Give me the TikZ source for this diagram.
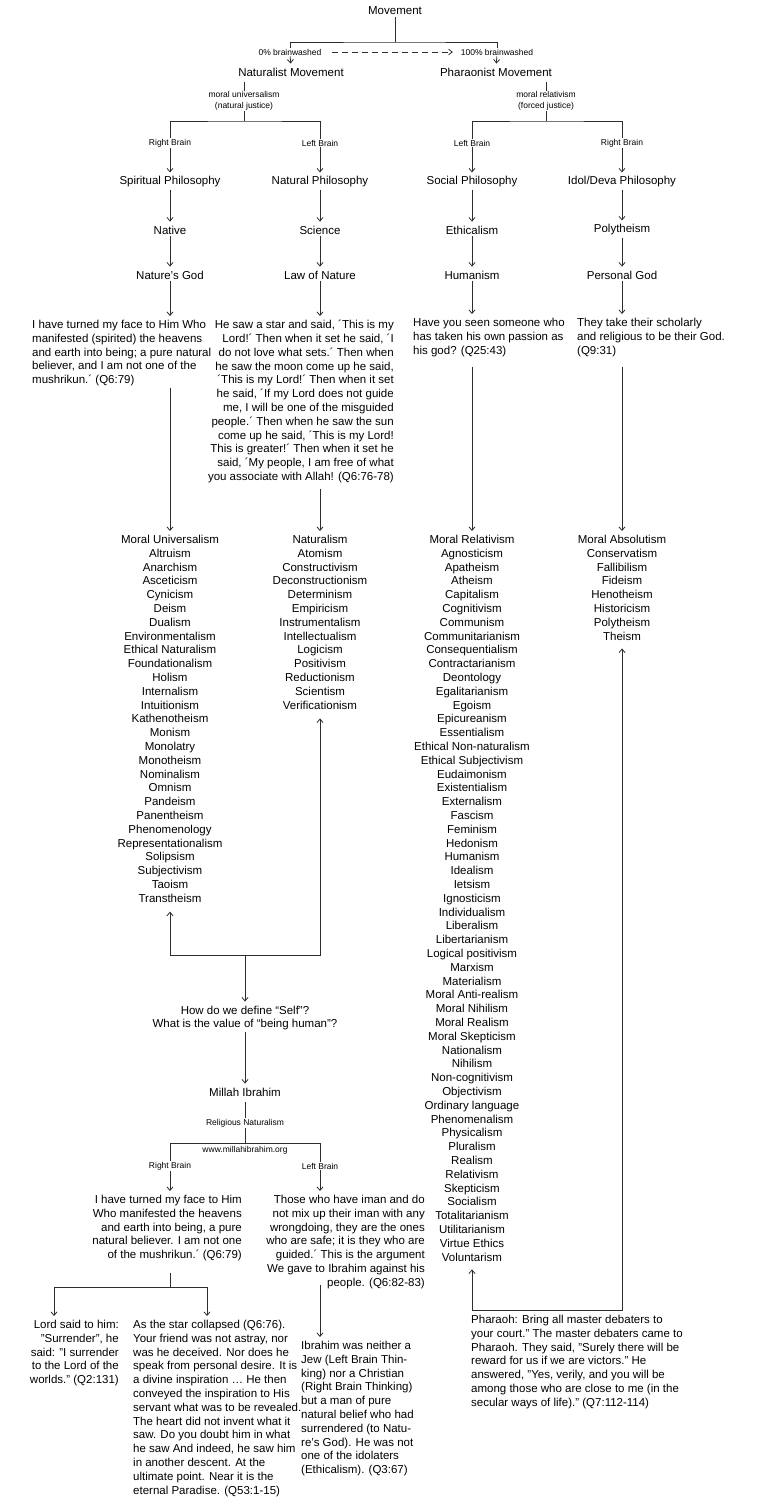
\documentclass[tikz,border=0pt]{standalone}
\usepackage{fontspec}
\setmainfont{Liberation Sans}
\usepackage{tikz}
\usetikzlibrary{arrows.meta,calc}
\definecolor{linegray}{RGB}{45,45,45}
\newcommand{\mainsize}{\fontsize{11.5}{13.8}\selectfont}
\newcommand{\tinysize}{\fontsize{8.5}{10.5}\selectfont}
\tikzset{
  txt/.style   = {font=\mainsize, inner sep=2pt},
  lbl/.style   = {font=\tinysize, inner sep=1pt, align=center},
  lnote/.style = {txt, align=left},
  rnote/.style = {txt, align=right},
  lst/.style   = {txt, align=center, anchor=north},
  link/.style  = {line width=0.8pt, draw=linegray},
  flow/.style  = {link, -{Straight Barb[length=3.5pt,width=6pt]}, shorten >=2pt},
}

\begin{document}
\begin{tikzpicture}[x=1pt, y=-1pt]
  \useasboundingbox (0,0) rectangle (770,1500);

  \node[txt] (mov) at (395,11) {Movement};
  \coordinate (bar0) at (395,42);
  \node[lbl] (bw0)   at (290,52) {0\% brainwashed};
  \node[lbl] (bw100) at (497,52) {100\% brainwashed};
  \node[txt] (nat)  at (291,72) {Naturalist Movement};
  \node[txt] (phar) at (496,72) {Pharaonist Movement};
  \node[lbl] (muni) at (244,101) {moral universalism\\(natural justice)};
  \node[lbl] (mrel) at (546,101) {moral relativism\\(forced justice)};
  \coordinate (barL) at (244,121);
  \coordinate (barR) at (546,121);

  \node[lbl] (rb1) at (170,143) {Right Brain};
  \node[lbl] (lb1) at (320,143) {Left Brain};
  \node[lbl] (lb2) at (472,143) {Left Brain};
  \node[lbl] (rb2) at (622,143) {Right Brain};

  \node[txt] (sp)   at (170,182) {Spiritual Philosophy};
  \node[txt] (np)   at (320,182) {Natural Philosophy};
  \node[txt] (socp) at (472,182) {Social Philosophy};
  \node[txt] (idol) at (622,182) {Idol/Deva Philosophy};
  \node[txt] (native) at (170,230) {Native};
  \node[txt] (sci)    at (320,230) {Science};
  \node[txt] (ethic)  at (472,230) {Ethicalism};
  \node[txt] (poly)   at (622,230) {Polytheism};
  \node[txt] (natgod) at (170,275) {Nature's God};
  \node[txt] (lawnat) at (320,275) {Law of Nature};
  \node[txt] (human)  at (472,275) {Humanism};
  \node[txt] (pgod)   at (622,275) {Personal God};

  \node[lnote, anchor=north west] (q1) at (30,318) {I have turned my face to Him Who\\manifested (spirited) the heavens\\and earth into being; a pure natural\\believer, and I am not one of the\\mushrikun.´ (Q6:79)};
  \node[rnote, anchor=north east] (q2) at (396,318) {He saw a star and said, ´This is my\\Lord!´ Then when it set he said, ´I\\do not love what sets.´ Then when\\he saw the moon come up he said,\\´This is my Lord!´ Then when it set\\he said, ´If my Lord does not guide\\me, I will be one of the misguided\\people.´ Then when he saw the sun\\come up he said, ´This is my Lord!\\This is greater!´ Then when it set he\\said, ´My people, I am free of what\\you associate with Allah! (Q6:76-78)};
  \node[lnote, anchor=north west] (q3) at (411,316) {Have you seen someone who\\has taken his own passion as\\his god? (Q25:43)};
  \node[lnote, anchor=north west] (q4) at (575,316) {They take their scholarly\\and religious to be their God.\\(Q9:31)};

  \node[lst] (l1) at (170,533) {Moral Universalism\\Altruism\\Anarchism\\Asceticism\\Cynicism\\Deism\\Dualism\\Environmentalism\\Ethical Naturalism\\Foundationalism\\Holism\\Internalism\\Intuitionism\\Kathenotheism\\Monism\\Monolatry\\Monotheism\\Nominalism\\Omnism\\Pandeism\\Panentheism\\Phenomenology\\Representationalism\\Solipsism\\Subjectivism\\Taoism\\Transtheism};
  \node[lst] (l2) at (320,533) {Naturalism\\Atomism\\Constructivism\\Deconstructionism\\Determinism\\Empiricism\\Instrumentalism\\Intellectualism\\Logicism\\Positivism\\Reductionism\\Scientism\\Verificationism};
  \node[lst] (l3) at (472,533) {Moral Relativism\\Agnosticism\\Apatheism\\Atheism\\Capitalism\\Cognitivism\\Communism\\Communitarianism\\Consequentialism\\Contractarianism\\Deontology\\Egalitarianism\\Egoism\\Epicureanism\\Essentialism\\Ethical Non-naturalism\\Ethical Subjectivism\\Eudaimonism\\Existentialism\\Externalism\\Fascism\\Feminism\\Hedonism\\Humanism\\Idealism\\Ietsism\\Ignosticism\\Individualism\\Liberalism\\Libertarianism\\Logical positivism\\Marxism\\Materialism\\Moral Anti-realism\\Moral Nihilism\\Moral Realism\\Moral Skepticism\\Nationalism\\Nihilism\\Non-cognitivism\\Objectivism\\Ordinary language\\Phenomenalism\\Physicalism\\Pluralism\\Realism\\Relativism\\Skepticism\\Socialism\\Totalitarianism\\Utilitarianism\\Virtue Ethics\\Voluntarism};
  \node[lst] (l4) at (622,533) {Moral Absolutism\\Conservatism\\Fallibilism\\Fideism\\Henotheism\\Historicism\\Polytheism\\Theism};

  \coordinate (bar1) at (245,955);
  \node[txt, align=center] (selfq) at (245,1018) {How do we define “Self”?\\What is the value of “being human”?};
  \node[txt] (millah) at (245,1092) {Millah Ibrahim};
  \node[lbl] (relnat) at (245,1123) {Religious Naturalism};
  \coordinate (bar2) at (245,1143);
  \node[lbl] (www) at (245,1150) {www.millahibrahim.org};
  \node[lbl] (rb3) at (170,1166) {Right Brain};
  \node[lbl] (lb3) at (320,1166) {Left Brain};

  \node[rnote, anchor=north east] (q5) at (244,1193) {I have turned my face to Him\\Who manifested the heavens\\and earth into being, a pure\\natural believer. I am not one\\of the mushrikun.´ (Q6:79)};
  \node[rnote, anchor=north east] (q6) at (427,1193) {Those who have iman and do\\not mix up their iman with any\\wrongdoing, they are the ones\\who are safe; it is they who are\\guided.´ This is the argument\\We gave to Ibrahim against his\\people. (Q6:82-83)};
  \coordinate (bar4) at (170,1287);
  \coordinate (a7) at (54,1287);
  \coordinate (a8) at (207,1287);
  \node[rnote, anchor=north east] (q7) at (121,1318) {Lord said to him:\\"Surrender", he\\said: "I surrender\\to the Lord of the\\worlds." (Q2:131)};
  \node[lnote, anchor=north west] (q8) at (131,1318) {As the star collapsed (Q6:76).\\Your friend was not astray, nor\\was he deceived. Nor does he\\speak from personal desire. It is\\a divine inspiration … He then\\conveyed the inspiration to His\\servant what was to be revealed.\\The heart did not invent what it\\saw. Do you doubt him in what\\he saw And indeed, he saw him\\in another descent. At the\\ultimate point. Near it is the\\eternal Paradise. (Q53:1-15)};
  \node[lnote, anchor=north west] (q9) at (299,1339) {Ibrahim was neither a\\Jew (Left Brain Thin-\\king) nor a Christian\\(Right Brain Thinking)\\but a man of pure\\natural belief who had\\surrendered (to Natu-\\re's God). He was not\\one of the idolaters\\(Ethicalism). (Q3:67)};

  \coordinate (bar3) at (547,1310);
  \node[lnote, anchor=north west] (pq) at (469,1313) {Pharaoh: Bring all master debaters to\\your court." The master debaters came to\\Pharaoh. They said, "Surely there will be\\reward for us if we are victors." He\\answered, "Yes, verily, and you will be\\among those who are close to me (in the\\secular ways of life)." (Q7:112-114)};

  \draw[link] (mov) -- (bar0);
  \draw[link] (bw0) |- (bar0) -| (bw100);
  \draw[flow, dash pattern=on 6pt off 4pt, shorten <=9pt, shorten >=7pt] (bw0) -- (bw100);
  \draw[flow] (bw0) -- (nat);
  \draw[flow] (bw100) -- (phar);
  \draw[link, shorten <=4pt] (nat.south -| muni) -- (muni);
  \draw[link, shorten <=4pt] (phar.south -| mrel) -- (mrel);
  \draw[link] (muni) -- (barL);
  \draw[link] (mrel) -- (barR);
  \draw[link] (rb1) |- (barL) -| (lb1);
  \draw[link] (lb2) |- (barR) -| (rb2);
  \draw[flow] (rb1) -- (sp);
  \draw[flow] (lb1) -- (np);
  \draw[flow] (lb2) -- (socp);
  \draw[flow] (rb2) -- (idol);
  \draw[flow] (sp) -- (native);
  \draw[flow] (np) -- (sci);
  \draw[flow] (socp) -- (ethic);
  \draw[flow] (idol) -- (poly);
  \draw[flow] (native) -- (natgod);
  \draw[flow] (sci) -- (lawnat);
  \draw[flow] (ethic) -- (human);
  \draw[flow] (poly) -- (pgod);
  \draw[flow] (natgod) -- (natgod |- q1.north);
  \draw[flow] (lawnat) -- (lawnat |- q2.north);
  \draw[flow] (human) -- (human |- q3.north);
  \draw[flow] (pgod) -- (pgod |- q4.north);
  \draw[flow] (q1.south -| natgod) -- (natgod |- l1.north);
  \draw[flow, shorten <=4pt] (q2.south -| lawnat) -- (lawnat |- l2.north);
  \draw[flow, shorten <=8pt] (q3.south -| human) -- (human |- l3.north);
  \draw[flow, shorten <=8pt] (q4.south -| pgod) -- (pgod |- l4.north);

  \draw[flow, shorten >=7pt] (bar1) -| (l1.south);
  \draw[flow, shorten >=7pt] (bar1) -| (l2.south);
  \draw[flow] (bar1) -- (selfq);
  \draw[flow] (selfq) -- (millah);
  \draw[link, shorten <=4pt] (millah) -- (relnat);
  \draw[link] (relnat) -- (bar2);
  \draw[link] (rb3) |- (bar2) -| (lb3);
  \draw[flow] (rb3) -- (rb3 |- q5.north);
  \draw[flow] (lb3) -- (lb3 |- q6.north);
  \draw[link, shorten <=10pt] (q5.south -| rb3) -- (bar4);
  \draw[link] (a7) -- (a8);
  \draw[flow] (a7) -- (a7 |- q7.north);
  \draw[flow] (a8) -- (a8 |- q8.north);
  \draw[flow, shorten <=-6pt] (q6.south -| lb3) -- (lb3 |- q9.north);

  \draw[flow, shorten >=6pt] (bar3) -| (l3.south);
  \draw[flow, shorten >=6pt] (bar3) -| (l4.south);
\end{tikzpicture}
\end{document}
